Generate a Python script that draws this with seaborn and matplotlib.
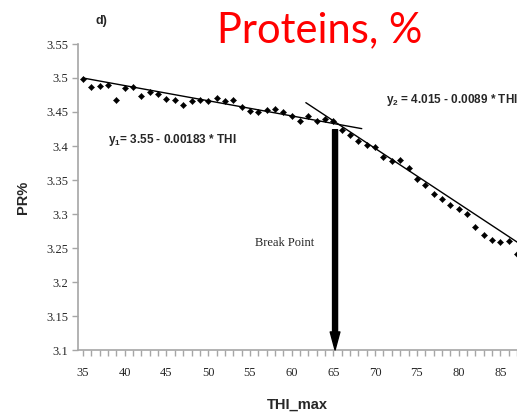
import numpy as np
import pandas as pd
import matplotlib
matplotlib.use("Agg")
import matplotlib.pyplot as plt
import seaborn as sns
from matplotlib.ticker import MultipleLocator

# ---- data ----
thi = list(range(35, 88))
pr = [3.498, 3.487, 3.488, 3.490, 3.468, 3.485, 3.487, 3.474, 3.480, 3.476,
      3.469, 3.468, 3.460, 3.466, 3.468, 3.466, 3.471, 3.466, 3.468, 3.458,
      3.452, 3.450, 3.453, 3.454, 3.450, 3.444, 3.437, 3.444, 3.437, 3.440,
      3.437, 3.424, 3.416, 3.408, 3.401, 3.398, 3.384, 3.378, 3.379, 3.367,
      3.351, 3.343, 3.329, 3.322, 3.313, 3.308, 3.300, 3.281, 3.269, 3.262,
      3.259, 3.261, 3.241]

# fitted segments (as drawn): y = a + b*(x - x0), over [start, end]
seg1_x = [35.0, 68.4]
seg1_a, seg1_b, seg1_x0 = 3.500, -0.00223, 35.0
seg2_x = [61.7, 88.0]
seg2_a, seg2_b, seg2_x0 = 3.437, -0.0081, 65.0

break_x = 65.2
break_y = 3.424

y_ticks = [3.1, 3.15, 3.2, 3.25, 3.3, 3.35, 3.4, 3.45, 3.5, 3.55]
x_ticks = [35, 40, 45, 50, 55, 60, 65, 70, 75, 80, 85]

eq1 = "y$_\\mathbf{1}$= 3.55 - 0.00183 * THI"
eq2 = "y$_\\mathbf{2}$ = 4.015 - 0.0089 * THI"

# ---- build frames ----
df = pd.DataFrame({"THI": thi, "PR": pr})
s1 = pd.DataFrame({"THI": seg1_x,
                   "PR": [seg1_a + seg1_b * (x - seg1_x0) for x in seg1_x]})
s2 = pd.DataFrame({"THI": seg2_x,
                   "PR": [seg2_a + seg2_b * (x - seg2_x0) for x in seg2_x]})

sns.set_style("white")
plt.rcParams["mathtext.fontset"] = "custom"
plt.rcParams["mathtext.rm"] = "Liberation Sans:bold"
plt.rcParams["mathtext.bf"] = "Liberation Sans:bold"
plt.rcParams["mathtext.it"] = "Liberation Sans:bold"

fig = plt.figure(figsize=(5.17, 4.19), dpi=100)
ax = fig.add_axes([78 / 517, (419 - 350) / 419, 1 - 78 / 517, (350 - 44) / 419])

sns.lineplot(data=s1, x="THI", y="PR", ax=ax, color="black", lw=1.0)
sns.lineplot(data=s2, x="THI", y="PR", ax=ax, color="black", lw=1.0)
sns.scatterplot(data=df, x="THI", y="PR", ax=ax, marker="D", s=10,
                color="black", edgecolor="black", linewidth=0.3, zorder=3,
                clip_on=False)

ax.set_xlim(34.4, 87.0)
ax.set_ylim(3.1, 3.55)
ax.set_yticks(y_ticks)
ax.set_yticklabels([f"{v:g}" for v in y_ticks])
ax.set_xticks(x_ticks)
ax.xaxis.set_minor_locator(MultipleLocator(1))
for side in ["top", "right"]:
    ax.spines[side].set_visible(False)
for side in ["left", "bottom"]:
    ax.spines[side].set_color("#a6a6a6")
    ax.spines[side].set_linewidth(1.2)
ax.tick_params(axis="both", which="both", direction="out", color="#a6a6a6",
               length=4, width=1, left=True, bottom=True)
ax.tick_params(axis="x", which="major", pad=8)
ax.tick_params(axis="y", which="major", pad=3)
for lab in ax.get_xticklabels() + ax.get_yticklabels():
    lab.set_fontfamily("Liberation Serif")
    lab.set_fontsize(9)

ax.set_xlabel("THI_max", fontfamily="Liberation Sans", fontweight="bold",
              fontsize=10.5, labelpad=14)
ax.set_ylabel("PR%", fontfamily="Liberation Sans", fontweight="bold",
              fontsize=10.5, labelpad=12)

# arrow at break point
ax.annotate("", xy=(break_x, 3.1), xytext=(break_x, break_y),
            arrowprops=dict(width=3.6, headwidth=7, headlength=13,
                            color="black", shrink=0), annotation_clip=False)
ax.text(break_x - 6.0, 3.257, "Break Point", fontfamily="Liberation Serif",
        fontsize=9, ha="center", va="center")

ax.text(38.0, 3.409, eq1, fontfamily="Liberation Sans",
        fontweight="bold", fontsize=8.5, ha="left", va="center")
ax.text(71.3, 3.468, eq2, fontfamily="Liberation Sans",
        fontweight="bold", fontsize=8.5, ha="left", va="center")

fig.text(95 / 517, 1 - 21 / 419, "d)", fontfamily="Liberation Sans",
         fontweight="bold", fontsize=9, ha="left", va="center")
fig.text(320 / 517, 1 - 30 / 419, "Proteins, %", color="#ff0000",
         fontfamily="Lato", fontsize=30, ha="center", va="center")

fig.savefig("out.png", dpi=100)
